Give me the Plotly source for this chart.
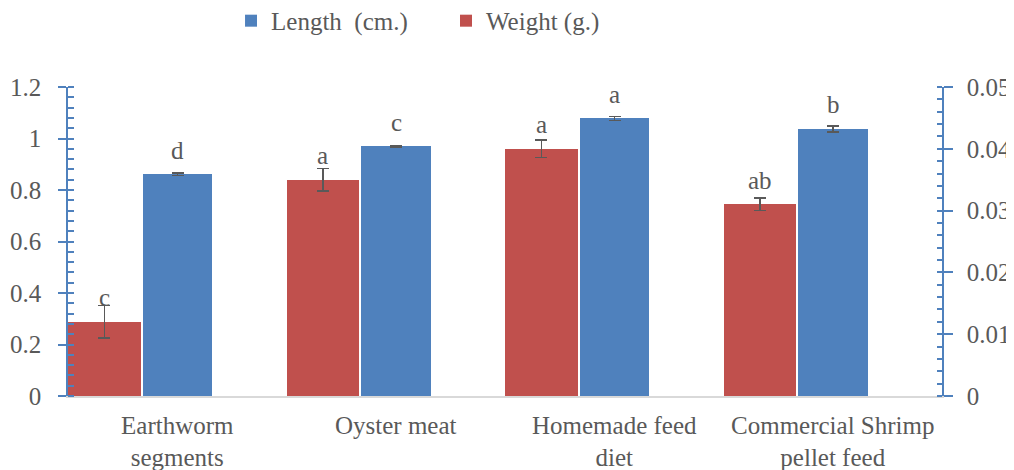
import plotly.graph_objects as go

categories = ["Earthworm<br>segments", "Oyster meat", "Homemade feed<br>diet", "Commercial Shrimp<br>pellet feed"]
length_vals = [0.861, 0.970, 1.078, 1.037]
length_err = [0.005, 0.003, 0.008, 0.012]
length_letters = ["d", "c", "a", "b"]
weight_vals = [0.01202, 0.0350, 0.0400, 0.0310]
weight_err = [0.0026, 0.0018, 0.0014, 0.0010]
weight_letters = ["c", "a", "a", "ab"]
left_ticks = [0, 0.2, 0.4, 0.6, 0.8, 1, 1.2]
right_ticks = [0, 0.01, 0.02, 0.03, 0.04, 0.05]

BLUE = "#4F81BD"
RED = "#C0504D"
GREY = "#595959"
FONT = "Liberation Serif, Times New Roman, serif"
FS = 25

xpos = list(range(len(categories)))
red_off, red_w = -0.5, 0.334
blue_off, blue_w = -0.157, 0.317

fig = go.Figure()
fig.add_trace(go.Bar(
    x=xpos, y=length_vals, name="Length\u00a0\u00a0(cm.)", yaxis="y", legend="legend",
    offset=blue_off, width=blue_w, marker=dict(color=BLUE, line=dict(width=0)),
    error_y=dict(type="data", array=length_err, color=GREY, thickness=1.6, width=6),
))
fig.add_trace(go.Bar(
    x=xpos, y=weight_vals, name="Weight (g.)", yaxis="y2", legend="legend2",
    offset=red_off, width=red_w, marker=dict(color=RED, line=dict(width=0)),
    error_y=dict(type="data", array=weight_err, color=GREY, thickness=1.6, width=6),
))
# helper traces for the inside halves of major ticks
fig.add_trace(go.Scatter(x=[None], y=[None], yaxis="y3", showlegend=False, hoverinfo="skip"))
fig.add_trace(go.Scatter(x=[None], y=[None], yaxis="y4", showlegend=False, hoverinfo="skip"))

annotations = []
for i, (v, t) in enumerate(zip(length_vals, length_letters)):
    annotations.append(dict(x=i + blue_off + blue_w / 2, y=v, yref="y", xref="x", text=t,
                            showarrow=False, yshift=24, yanchor="middle",
                            font=dict(family=FONT, size=FS, color=GREY)))
for i, (v, t) in enumerate(zip(weight_vals, weight_letters)):
    annotations.append(dict(x=i + red_off + red_w / 2, y=v, yref="y2", xref="x", text=t,
                            showarrow=False, yshift=24, yanchor="middle",
                            font=dict(family=FONT, size=FS, color=GREY)))

yl = [0, 1.2]
yr = [0, 0.05]
leg_common = dict(orientation="h", xanchor="left", xref="container", y=0.972, yanchor="middle",
                  yref="container", font=dict(family=FONT, size=FS, color=GREY),
                  bgcolor="rgba(0,0,0,0)")
fig.update_layout(
    width=1006, height=462,
    margin=dict(l=60, r=72, t=79, b=74),
    paper_bgcolor="white", plot_bgcolor="white",
    font=dict(family=FONT, size=FS, color=GREY),
    showlegend=True,
    legend=dict(x=0.2217, **leg_common),
    legend2=dict(x=0.4354, **leg_common),
    xaxis=dict(range=[-0.5, 3.5], tickvals=xpos, ticktext=categories, showgrid=False,
               zeroline=False, showline=True, linecolor="#D9D9D9", linewidth=1.5,
               ticks="", ticklabelstandoff=6, fixedrange=True, automargin=False),
    yaxis=dict(range=yl, tickvals=left_ticks, ticktext=[f"{v:g}" for v in left_ticks],
               showgrid=False, zeroline=False, showline=True, linecolor=BLUE, linewidth=1.5,
               ticks="outside", ticklen=8, tickwidth=1.5, tickcolor=BLUE, ticklabelstandoff=12,
               automargin=False,
               minor=dict(ticks="inside", ticklen=6, tickwidth=1.5, tickcolor=BLUE, dtick=0.04)),
    yaxis2=dict(range=yr, tickvals=right_ticks, ticktext=[f"{v:g}" for v in right_ticks],
                overlaying="y", side="right", anchor="x", automargin=False,
                showgrid=False, zeroline=False, showline=True, linecolor=BLUE, linewidth=1.5,
                ticks="outside", ticklen=9, tickwidth=1.5, tickcolor=BLUE, ticklabelstandoff=9,
                minor=dict(ticks="inside", ticklen=5, tickwidth=1.5, tickcolor=BLUE, dtick=0.002)),
    yaxis3=dict(range=yl, tickvals=left_ticks, overlaying="y", side="left", anchor="x",
                showticklabels=False, showgrid=False, zeroline=False, showline=False,
                automargin=False,
                ticks="inside", ticklen=6, tickwidth=1.5, tickcolor=BLUE),
    yaxis4=dict(range=yr, tickvals=right_ticks, overlaying="y", side="right", anchor="x",
                showticklabels=False, showgrid=False, zeroline=False, showline=False,
                automargin=False,
                ticks="inside", ticklen=5, tickwidth=1.5, tickcolor=BLUE),
    annotations=annotations,
    bargap=0, barmode="overlay",
)
fig.write_html("out.html")
